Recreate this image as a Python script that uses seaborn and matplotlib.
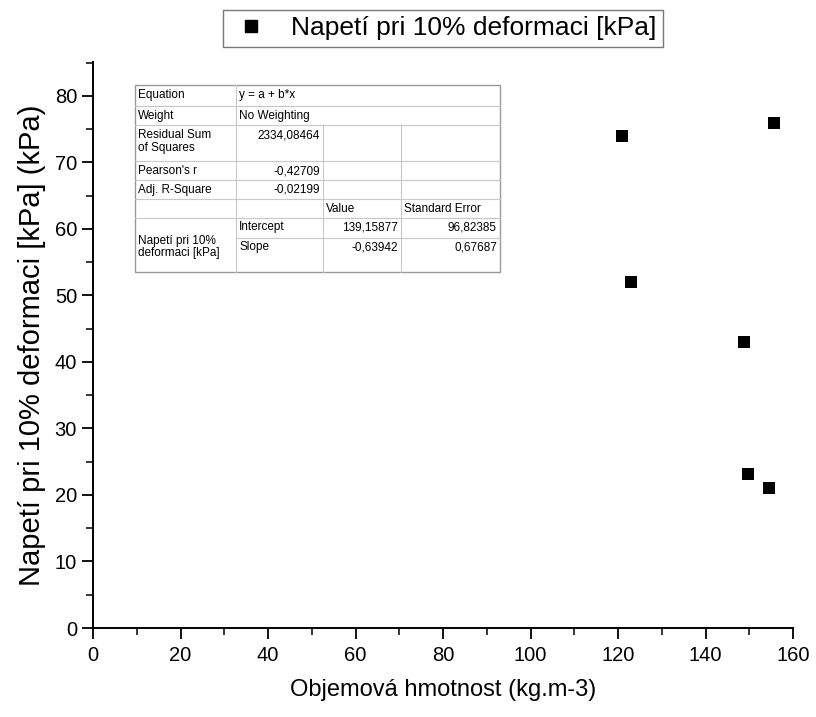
import pandas as pd
import matplotlib.pyplot as plt
import seaborn as sns
from matplotlib.lines import Line2D
from matplotlib.ticker import MultipleLocator

# data
density = [120.8, 155.7, 122.9, 148.7, 149.8, 154.5]
stress = [74.0, 75.9, 52.0, 43.0, 23.1, 21.1]
series_name = 'Napetí pri 10% deformaci [kPa]'

fit_rows = [
    ['Equation', 'y = a + b*x', '', ''],
    ['Weight', 'No Weighting', '', ''],
    ['Residual Sum\nof Squares', '2334,08464', '', ''],
    ["Pearson's r", '-0,42709', '', ''],
    ['Adj. R-Square', '-0,02199', '', ''],
    ['', '', 'Value', 'Standard Error'],
]
fit_params = ['Intercept', 'Slope']
fit_values = ['139,15877', '-0,63942']
fit_errors = ['96,82385', '0,67687']

df = pd.DataFrame({'x': density, 'y': stress, 'series': series_name})

sns.set_style('ticks')
plt.rcParams['font.family'] = ['Liberation Sans', 'DejaVu Sans']
plt.rcParams['text.color'] = 'black'
plt.rcParams['axes.labelcolor'] = 'black'

W, H = 816, 717
fig = plt.figure(figsize=(W / 100, H / 100), dpi=100)
ax = fig.add_axes([93 / W, 1 - 628 / H, 700 / W, 566 / H])

sns.scatterplot(data=df, x='x', y='y', marker='s', color='black', s=85,
                edgecolor='black', linewidth=0, legend=False, ax=ax)

ax.set_xlim(0, 160)
ax.set_ylim(0, 85.1)
ax.xaxis.set_major_locator(MultipleLocator(20))
ax.xaxis.set_minor_locator(MultipleLocator(10))
ax.yaxis.set_major_locator(MultipleLocator(10))
ax.yaxis.set_minor_locator(MultipleLocator(5))
ax.tick_params(which='major', direction='out', length=8, width=1.3, labelsize=14.5,
               colors='black', labelcolor='black')
ax.tick_params(axis='x', which='major', pad=5)
ax.tick_params(which='minor', direction='out', length=5, width=1.1, colors='black')
for s in ['left', 'bottom']:
    ax.spines[s].set_linewidth(1.4)
    ax.spines[s].set_color('black')
for s in ['top', 'right']:
    ax.spines[s].set_visible(False)

ax.set_xlabel('Objemová hmotnost (kg.m-3)', fontsize=17, labelpad=10)
ax.set_ylabel('Napetí pri 10% deformaci [kPa] (kPa)', fontsize=21, labelpad=6)

# legend
handle = Line2D([], [], marker='s', color='black', linestyle='none', markersize=9)
fig.legend([handle], [series_name], loc='center', bbox_to_anchor=(443 / W, 1 - 28.5 / H),
           fontsize=19, frameon=True, fancybox=False, edgecolor='#555555',
           borderpad=0.25, handletextpad=0.7, handlelength=1.6, borderaxespad=0)

# fit result table (pixel layout)
cols = [135, 236, 323, 401, 500]
rows = [85, 106, 125, 161, 180, 199, 218, 238, 272]


def fx(px):
    return px / W


def fy(py):
    return 1 - py / H


grey = '#c8c8c8'
for i, yy in enumerate(rows[1:-1], start=1):
    x0 = cols[1] if i == 7 else cols[0]
    fig.add_artist(Line2D([fx(x0), fx(cols[-1])], [fy(yy), fy(yy)], color=grey, lw=0.8))
fig.add_artist(Line2D([fx(cols[1]), fx(cols[1])], [fy(rows[0]), fy(rows[-1])], color=grey, lw=0.8))
for c in cols[2:4]:
    fig.add_artist(Line2D([fx(c), fx(c)], [fy(rows[2]), fy(rows[-1])], color=grey, lw=0.8))
fig.add_artist(plt.Rectangle((fx(cols[0]), fy(rows[-1])), fx(cols[-1]) - fx(cols[0]),
                             fy(rows[0]) - fy(rows[-1]), fill=False, edgecolor='#999999',
                             lw=1.0, transform=fig.transFigure))

fs = 8.5
pad = 3
for r, row in enumerate(fit_rows):
    ytop = rows[r] + 4
    fig.text(fx(cols[0] + pad), fy(ytop), row[0], fontsize=fs, va='top', ha='left', linespacing=1.1)
    if r < 2:
        fig.text(fx(cols[1] + pad), fy(ytop), row[1], fontsize=fs, va='top', ha='left')
    elif row[1]:
        fig.text(fx(cols[2] - pad), fy(ytop), row[1], fontsize=fs, va='top', ha='right')
    if row[2]:
        fig.text(fx(cols[2] + pad), fy(ytop), row[2], fontsize=fs, va='top', ha='left')
        fig.text(fx(cols[3] + pad), fy(ytop), row[3], fontsize=fs, va='top', ha='left')

fig.text(fx(cols[0] + pad), fy((rows[6] + rows[8]) / 2 + 2), series_name.replace('10% ', '10%\n'),
         fontsize=fs, va='center', ha='left', linespacing=1.1)
for k in range(2):
    ytop = rows[6 + k] + 3
    fig.text(fx(cols[1] + pad), fy(ytop), fit_params[k], fontsize=fs, va='top', ha='left')
    fig.text(fx(cols[3] - pad), fy(ytop), fit_values[k], fontsize=fs, va='top', ha='right')
    fig.text(fx(cols[4] - pad), fy(ytop), fit_errors[k], fontsize=fs, va='top', ha='right')

fig.savefig('out.png', dpi=100)
